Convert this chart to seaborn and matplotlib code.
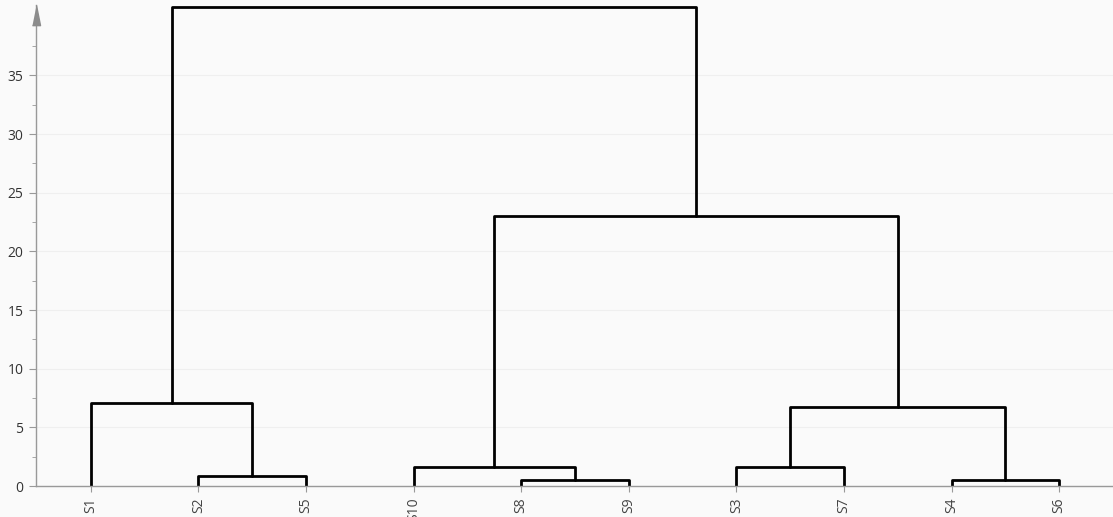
import numpy as np
import pandas as pd
import matplotlib
matplotlib.use("Agg")
import matplotlib.pyplot as plt
import seaborn as sns

# Leaf order and linkage (left child, right child, height)
# Cluster k (1-based) is named "Ck" and formed by merge k
leaves = ["S1", "S2", "S5", "S10", "S8", "S9", "S3", "S7", "S4", "S6"]
merge_left = ["S2", "S8", "S4", "S3", "S10", "C4", "C5", "S1", "C8"]
merge_right = ["S5", "S9", "S6", "S7", "C2", "C3", "C6", "C1", "C7"]
merge_height = [0.85, 0.5, 0.5, 1.6, 1.6, 6.7, 23.0, 7.05, 40.8]
yticks = [0, 5, 10, 15, 20, 25, 30, 35]

sns.set_style("white")
plt.rcParams["font.family"] = ["Open Sans", "DejaVu Sans"]

bg = "#fafafa"
fig = plt.figure(figsize=(11.13, 5.17), dpi=100, facecolor=bg)
ax = fig.add_axes([36 / 1113, 31 / 517, (1113 - 36) / 1113, 481 / 517])
ax.set_facecolor(bg)

# positions of nodes
pos = {name: (i, 0.0) for i, name in enumerate(leaves)}
rows = []
for k, (l, r, h) in enumerate(zip(merge_left, merge_right, merge_height)):
    xl, yl = pos[l]
    xr, yr = pos[r]
    for px, py in [(xl, yl), (xl, h), (xr, h), (xr, yr)]:
        rows.append({"x": px, "y": py, "link": k})
    pos["C%d" % (k + 1)] = ((xl + xr) / 2, h)
df = pd.DataFrame(rows)

sns.lineplot(data=df, x="x", y="y", units="link", estimator=None, sort=False,
             color="black", lw=2, ax=ax, legend=False)

ax.set_xlim(-0.51, 9.5)
ax.set_ylim(0, 41)
ax.set_xticks(range(len(leaves)))
ax.set_xticklabels(leaves, rotation=90, fontsize=10, color="#444444")
ax.set_yticks(yticks)
ax.set_yticklabels([str(v) for v in yticks], fontsize=10, color="#333333")
ax.set_yticks(np.arange(2.5, 40, 5), minor=True)
ax.set_xlabel("")
ax.set_ylabel("")
ax.grid(axis="y", which="major", color="#efefef", lw=0.8)
ax.set_axisbelow(True)

for s in ["top", "right"]:
    ax.spines[s].set_visible(False)
for s in ["left", "bottom"]:
    ax.spines[s].set_color("#999999")
    ax.spines[s].set_linewidth(1)
ax.tick_params(axis="y", which="major", length=5, color="#999999", pad=4, left=True)
ax.tick_params(axis="y", which="minor", length=3, color="#999999", left=True)
ax.tick_params(axis="x", length=4, color="#999999", pad=4, bottom=True)

# arrow at top of y axis
ax.plot(0, 1, transform=ax.transAxes, marker=[(-4, -20), (4, -20), (0, 0)],
        ms=29, color="#8c8c8c", clip_on=False, zorder=5)

fig.savefig("out.png", dpi=100, facecolor=bg)
